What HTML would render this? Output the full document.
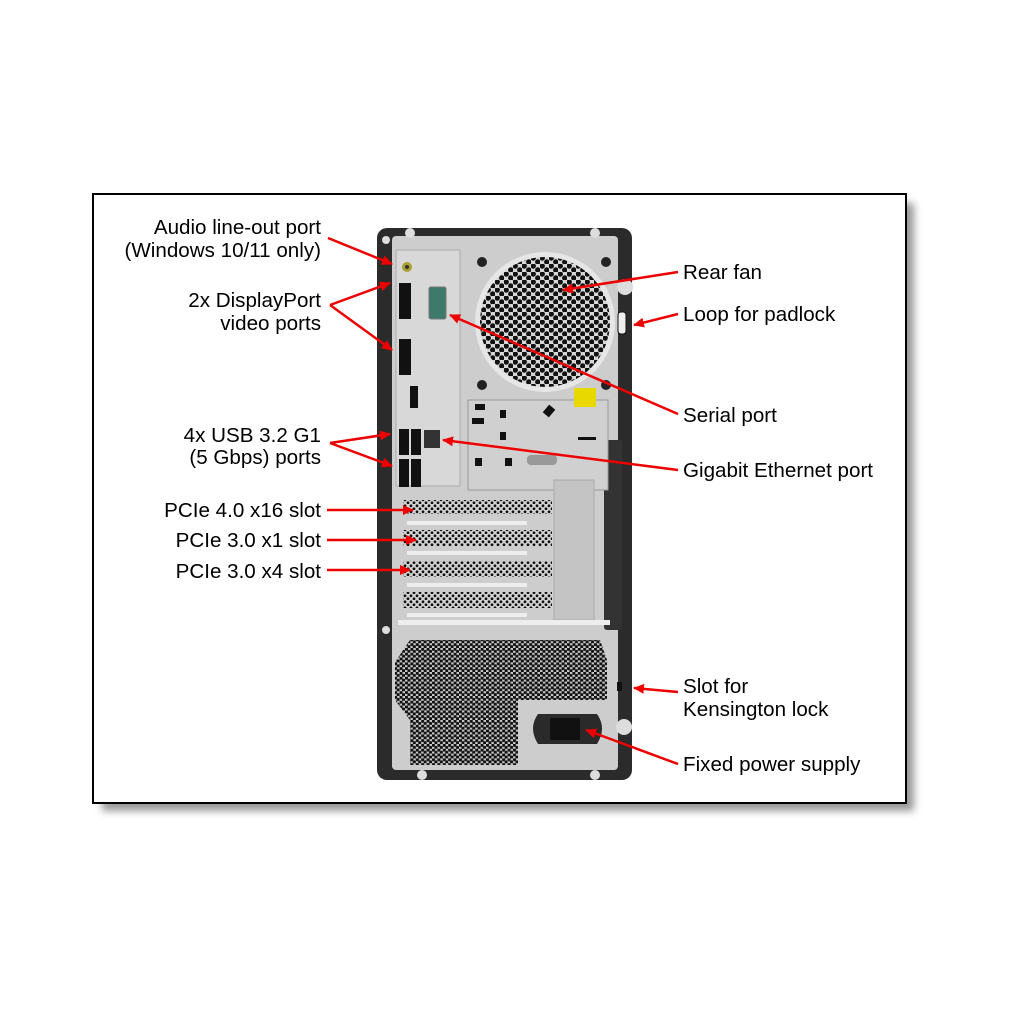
<!DOCTYPE html>
<html><head><style>
html,body{margin:0;padding:0;background:#fff;}
body{width:1024px;height:1024px;position:relative;overflow:hidden;font-family:"Liberation Sans",Arial,sans-serif;}
svg{position:absolute;left:0;top:0;}
text{font-family:"Liberation Sans",Arial,sans-serif;font-size:20.6px;fill:#000;}
</style></head><body>
<svg width="1024" height="1024" viewBox="0 0 1024 1024">
<defs>
<filter id="sh" x="-5%" y="-5%" width="115%" height="115%"><feGaussianBlur stdDeviation="4"/></filter>
<pattern id="hex" width="9" height="8" patternUnits="userSpaceOnUse">
<rect width="9" height="8" fill="#d6d6d6"/>
<circle cx="2.25" cy="2" r="2.7" fill="#111"/><circle cx="6.75" cy="6" r="2.7" fill="#111"/>
</pattern>
<pattern id="hex2" width="5.4" height="4.8" patternUnits="userSpaceOnUse">
<rect width="5.4" height="4.8" fill="#c8c8c8"/>
<circle cx="1.35" cy="1.2" r="1.7" fill="#111"/><circle cx="4.05" cy="3.6" r="1.7" fill="#111"/>
</pattern>
<pattern id="dots" width="6" height="6" patternUnits="userSpaceOnUse">
<rect width="6" height="6" fill="#d4d4d4"/>
<circle cx="3" cy="1.8" r="1.4" fill="#111"/><circle cx="0" cy="4.8" r="1.4" fill="#111"/><circle cx="6" cy="4.8" r="1.4" fill="#111"/>
</pattern>
<marker id="ah" markerWidth="11" markerHeight="10" refX="10" refY="5" orient="auto" markerUnits="userSpaceOnUse" viewBox="0 0 11 10">
<path d="M0,0 L11,5 L0,10 Z" fill="#e00"/></marker>
</defs>
<rect x="102" y="203" width="812" height="608" fill="#999" filter="url(#sh)"/>
<rect x="93" y="194" width="813" height="609" fill="#fff" stroke="#000" stroke-width="2"/>

<rect x="377" y="228" width="255" height="552" rx="10" fill="#2b2b2b"/>
<rect x="392" y="236" width="226" height="534" rx="4" fill="#cdcdcd"/>
<circle cx="386" cy="240" r="4" fill="#ddd"/><circle cx="410" cy="233" r="5" fill="#ddd"/>
<circle cx="595" cy="233" r="5" fill="#ddd"/><circle cx="386" cy="630" r="4" fill="#ddd"/>
<circle cx="625" cy="287" r="8" fill="#ddd"/><circle cx="624" cy="727" r="8" fill="#ddd"/>
<circle cx="422" cy="775" r="5" fill="#ddd"/><circle cx="595" cy="775" r="5" fill="#ddd"/>
<rect x="604" y="440" width="18" height="190" rx="3" fill="#333"/>
<rect x="618" y="312" width="8" height="22" rx="3" fill="#eee" stroke="#111"/>
<rect x="617" y="682" width="5" height="9" fill="#111"/>

<rect x="396" y="250" width="64" height="236" fill="#d8d8d8" stroke="#aaa"/>
<circle cx="407" cy="267" r="5" fill="#a9a030"/><circle cx="407" cy="267" r="2" fill="#333"/>
<rect x="399" y="283" width="12" height="36" fill="#111"/>
<rect x="399" y="339" width="12" height="36" fill="#111"/>
<rect x="410" y="386" width="8" height="22" fill="#111"/>
<rect x="429" y="287" width="17" height="32" rx="2" fill="#3d7a6a" stroke="#777"/>
<rect x="399" y="429" width="10" height="26" fill="#111"/><rect x="411" y="429" width="10" height="26" fill="#111"/>
<rect x="399" y="459" width="10" height="28" fill="#111"/><rect x="411" y="459" width="10" height="28" fill="#111"/>
<rect x="424" y="430" width="16" height="18" fill="#333"/>
<rect x="468" y="400" width="140" height="90" fill="#d0d0d0" stroke="#999"/>
<rect x="475" y="404" width="10" height="6" fill="#111"/><rect x="545" y="406" width="8" height="10" fill="#111" transform="rotate(40 549 411)"/>
<rect x="500" y="410" width="6" height="8" fill="#111"/><rect x="472" y="418" width="12" height="6" fill="#111"/>
<rect x="500" y="432" width="6" height="8" fill="#111"/><rect x="578" y="437" width="18" height="3" fill="#111"/>
<rect x="475" y="458" width="7" height="8" fill="#111"/><rect x="505" y="458" width="7" height="8" fill="#111"/>
<rect x="527" y="455" width="30" height="10" rx="4" fill="#999"/>
<rect x="574" y="388" width="22" height="19" fill="#e8d800"/>
<circle cx="545" cy="322" r="70" fill="#e6e6e6"/>
<circle cx="545" cy="322" r="65" fill="url(#hex)"/>
<circle cx="482" cy="262" r="5" fill="#222"/><circle cx="606" cy="262" r="5" fill="#222"/>
<circle cx="482" cy="385" r="5" fill="#222"/><circle cx="606" cy="385" r="5" fill="#222"/>
<rect x="403" y="500" width="149" height="14" fill="url(#dots)"/>
<rect x="407" y="521" width="120" height="4" fill="#eee"/>
<rect x="403" y="530" width="149" height="16" fill="url(#dots)"/>
<rect x="407" y="551" width="120" height="4" fill="#eee"/>
<rect x="403" y="561" width="149" height="16" fill="url(#dots)"/>
<rect x="407" y="583" width="120" height="4" fill="#eee"/>
<rect x="403" y="592" width="149" height="16" fill="url(#dots)"/>
<rect x="407" y="613" width="120" height="4" fill="#eee"/>
<rect x="554" y="480" width="40" height="140" fill="#c4c4c4" stroke="#aaa"/>
<rect x="398" y="620" width="212" height="5" fill="#eee"/>
<path d="M395,662 L410,640 L600,640 L607,660 L607,700 L518,700 L518,765 L410,765 L410,720 L395,700 Z" fill="url(#hex2)"/>
<path d="M538,714 L597,714 Q607,728 597,744 L538,744 Q528,728 538,714 Z" fill="#2a2a2a"/>
<rect x="550" y="718" width="30" height="22" fill="#111"/>

<g stroke="#e00" stroke-width="2.5" fill="none" marker-end="url(#ah)">
<line x1="328" y1="238" x2="392" y2="264"/>
<line x1="330" y1="305" x2="390" y2="283"/>
<line x1="330" y1="305" x2="392" y2="350"/>
<line x1="330" y1="443" x2="390" y2="434"/>
<line x1="330" y1="443" x2="392" y2="466"/>
<line x1="327" y1="510" x2="413" y2="510"/>
<line x1="327" y1="540" x2="416" y2="540"/>
<line x1="327" y1="570" x2="410" y2="570"/>
<line x1="678" y1="272" x2="563" y2="290"/>
<line x1="678" y1="314" x2="634" y2="325"/>
<line x1="678" y1="414" x2="450" y2="315"/>
<line x1="678" y1="470" x2="443" y2="440"/>
<line x1="678" y1="692" x2="634" y2="688"/>
<line x1="678" y1="764" x2="586" y2="730"/>
</g>

<g text-anchor="end">
<text x="321" y="234">Audio line-out port</text>
<text x="321" y="257">(Windows 10/11 only)</text>
<text x="321" y="307">2x DisplayPort</text>
<text x="321" y="330">video ports</text>
<text x="321" y="442">4x USB 3.2 G1</text>
<text x="321" y="464">(5 Gbps) ports</text>
<text x="321" y="517">PCIe 4.0 x16 slot</text>
<text x="321" y="547">PCIe 3.0 x1 slot</text>
<text x="321" y="578">PCIe 3.0 x4 slot</text>
</g>
<text x="683" y="279">Rear fan</text>
<text x="683" y="321">Loop for padlock</text>
<text x="683" y="422">Serial port</text>
<text x="683" y="477">Gigabit Ethernet port</text>
<text x="683" y="693">Slot for</text>
<text x="683" y="716">Kensington lock</text>
<text x="683" y="771">Fixed power supply</text>
</svg>
</body></html>
